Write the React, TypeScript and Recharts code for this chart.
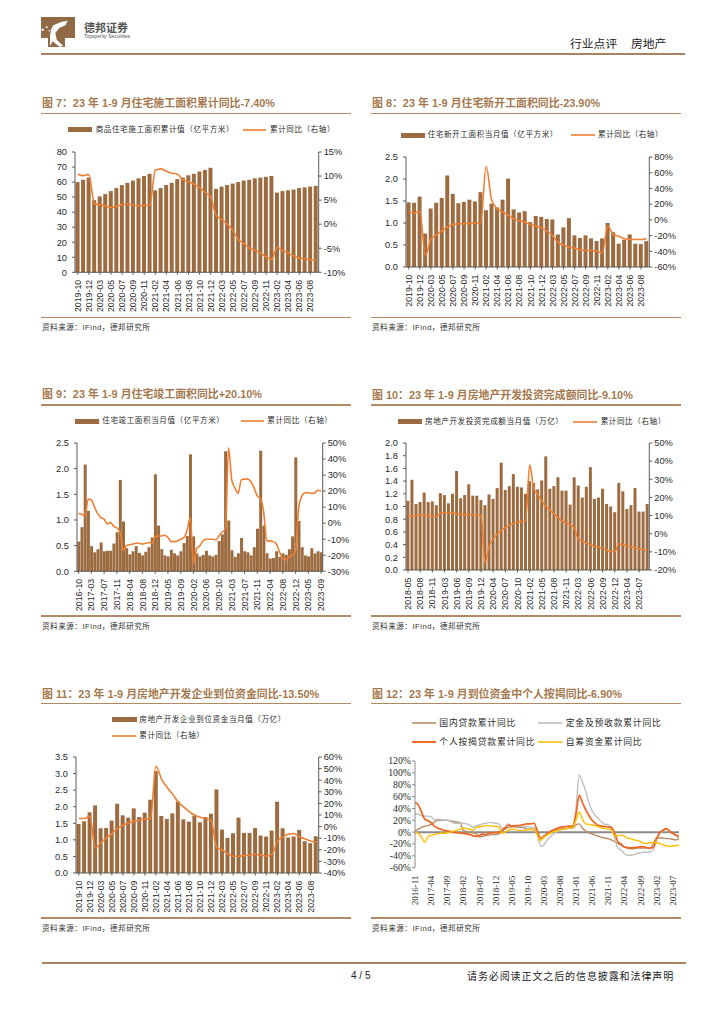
import React from "react";
import { ComposedChart, Bar, Line, XAxis, YAxis, ReferenceLine } from "recharts";

const catsA = ["2019-10","2019-11","2019-12","2020-02","2020-03","2020-04","2020-05","2020-06","2020-07","2020-08","2020-09","2020-10","2020-11","2020-12","2021-02","2021-03","2021-04","2021-05","2021-06","2021-07","2021-08","2021-09","2021-10","2021-11","2021-12","2022-02","2022-03","2022-04","2022-05","2022-06","2022-07","2022-08","2022-09","2022-10","2022-11","2022-12","2023-02","2023-03","2023-04","2023-05","2023-06","2023-07","2023-08","2023-09"];
const catsB = ["2016-10","2016-11","2016-12","2017-02","2017-03","2017-04","2017-05","2017-06","2017-07","2017-08","2017-09","2017-10","2017-11","2017-12","2018-02","2018-03","2018-04","2018-05","2018-06","2018-07","2018-08","2018-09","2018-10","2018-11","2018-12","2019-02","2019-03","2019-04","2019-05","2019-06","2019-07","2019-08","2019-09","2019-10","2019-11","2019-12","2020-02","2020-03","2020-04","2020-05","2020-06","2020-07","2020-08","2020-09","2020-10","2020-11","2020-12","2021-02","2021-03","2021-04","2021-05","2021-06","2021-07","2021-08","2021-09","2021-10","2021-11","2021-12","2022-02","2022-03","2022-04","2022-05","2022-06","2022-07","2022-08","2022-09","2022-10","2022-11","2022-12","2023-02","2023-03","2023-04","2023-05","2023-06","2023-07","2023-08","2023-09"];
const catsC = ["2018-05","2018-06","2018-07","2018-08","2018-09","2018-10","2018-11","2018-12","2019-02","2019-03","2019-04","2019-05","2019-06","2019-07","2019-08","2019-09","2019-10","2019-11","2019-12","2020-02","2020-03","2020-04","2020-05","2020-06","2020-07","2020-08","2020-09","2020-10","2020-11","2020-12","2021-02","2021-03","2021-04","2021-05","2021-06","2021-07","2021-08","2021-09","2021-10","2021-11","2021-12","2022-02","2022-03","2022-04","2022-05","2022-06","2022-07","2022-08","2022-09","2022-10","2022-11","2022-12","2023-02","2023-03","2023-04","2023-05","2023-06","2023-07","2023-08","2023-09"];
const catsD = ["2016-11","2016-12","2017-01","2017-02","2017-03","2017-04","2017-05","2017-06","2017-07","2017-08","2017-09","2017-10","2017-11","2017-12","2018-01","2018-02","2018-03","2018-04","2018-05","2018-06","2018-07","2018-08","2018-09","2018-10","2018-11","2018-12","2019-01","2019-02","2019-03","2019-04","2019-05","2019-06","2019-07","2019-08","2019-09","2019-10","2019-11","2019-12","2020-01","2020-02","2020-03","2020-04","2020-05","2020-06","2020-07","2020-08","2020-09","2020-10","2020-11","2020-12","2021-01","2021-02","2021-03","2021-04","2021-05","2021-06","2021-07","2021-08","2021-09","2021-10","2021-11","2021-12","2022-01","2022-02","2022-03","2022-04","2022-05","2022-06","2022-07","2022-08","2022-09","2022-10","2022-11","2022-12","2023-01","2023-02","2023-03","2023-04","2023-05","2023-06","2023-07","2023-08","2023-09"];

const bars7 = [60,61.5,63,48,50.5,52,54,56,58,59.5,61,62.5,64,65.5,54.5,56,58,59.5,62,63,64.5,65.5,67,68,69.5,55.5,57,58,59,60,61,61.5,62.5,63,63.5,64,53,54,54.5,55,56,56.5,57,57.5];
const line7 = [10.4,10.1,10.3,4.3,4.0,3.8,3.5,3.7,4.1,4.2,4.0,3.8,3.9,4.0,11.2,11.5,11.0,10.6,10.4,9.2,8.8,8.3,7.6,6.6,5.6,1.8,1.0,0.0,-1.3,-3.2,-4.0,-5.0,-5.4,-6.0,-6.8,-7.3,-4.8,-5.5,-6.0,-6.6,-7.0,-7.2,-7.4,-7.4];

const bars8 = [1.47,1.46,1.60,0.76,1.33,1.46,1.57,2.08,1.66,1.45,1.48,1.53,1.49,1.70,1.29,1.44,1.35,1.53,2.01,1.31,1.24,1.27,1.02,1.16,1.14,1.09,1.08,0.74,0.90,1.11,0.72,0.66,0.72,0.65,0.59,0.65,1.00,0.79,0.53,0.62,0.74,0.53,0.52,0.59];
const line8 = [10,9,10.5,-45,-25,-19,-14,-9,-6,-5,-5,-4.5,-4,-4,68,25,14,10,6,1,-1,-3,-6,-8,-10,-14,-20,-29,-32,-35,-36,-38,-39,-39,-40,-42,-8,-19,-21,-24,-25,-25,-25,-23.9];

const bars9 = [0.58,0.86,2.08,1.18,0.49,0.37,0.43,0.56,0.39,0.40,0.40,0.54,0.76,1.78,0.97,0.45,0.33,0.39,0.49,0.36,0.31,0.38,0.47,0.66,1.89,0.89,0.43,0.31,0.29,0.42,0.35,0.31,0.39,0.55,0.69,2.28,0.68,0.35,0.29,0.32,0.40,0.31,0.29,0.32,0.59,0.72,2.34,0.99,0.41,0.28,0.35,0.65,0.39,0.37,0.31,0.47,0.83,2.35,0.89,0.35,0.25,0.26,0.39,0.28,0.35,0.32,0.43,0.68,2.22,0.98,0.47,0.31,0.29,0.45,0.35,0.39,0.37];
const line9 = [6,5.5,4.5,15,14.5,10,6,3.5,2.5,-0.5,0.5,-2,-3,-5.5,-17,-14,-13.5,-13,-12.5,-12.5,-13,-12.5,-12,-12.5,-8.5,-8,-8,-7.5,-9,-11.5,-11.5,-11,-10,-9,-4.5,3.5,-25,-16,-14,-11,-10,-10,-10,-10.5,-8,-5.5,-4,47,27,22,18.5,27,27.5,27.5,26,22,17,15.5,7,-11,-11,-11.5,-13,-18,-22,-23,-21,-20,-17,10,17,19,19,18.5,19,20.5,20.1];

const bars10 = [1.09,1.42,1.04,1.07,1.22,1.07,1.08,1.02,1.21,1.18,1.05,1.20,1.56,1.13,1.18,1.35,1.17,1.17,1.10,1.02,1.19,1.12,1.29,1.69,1.26,1.32,1.51,1.31,1.30,1.20,1.40,1.37,1.27,1.41,1.79,1.28,1.32,1.46,1.25,1.25,1.03,1.46,1.33,1.14,1.31,1.62,1.12,1.14,1.28,1.04,1.00,0.91,1.37,1.24,0.96,1.02,1.29,0.92,0.92,1.04];
const line10 = [10,9.7,10,10.3,10.2,10,9.8,9.5,11.2,11.6,11.8,11.5,11,10.8,10.5,10.5,10.4,10.3,10.2,-16,-7,-3,-0.3,1.9,3.4,4.6,5.6,6.3,6.8,7,38,25,21.6,18,15,13,11,9,7,6,5,3.1,-3,-4,-5.2,-6,-7,-7.5,-8,-9,-9.8,-10,-5.5,-6,-6.5,-7,-7.7,-8.3,-8.8,-9.1];

const bars11 = [1.48,1.56,1.83,2.04,1.35,1.36,1.58,2.09,1.74,1.67,1.95,1.69,1.82,2.21,3.07,1.72,1.63,1.80,2.16,1.62,1.55,1.73,1.53,1.69,1.79,2.52,1.31,1.06,1.20,1.67,1.21,1.21,1.36,1.13,1.10,1.28,2.15,1.35,1.07,1.10,1.30,0.96,0.90,1.11];
const line11 = [7,7,9,-18.5,-14,-10,-6,-1.5,1,3,4.5,5.5,6.5,7,52,41,34,28,21.5,17,13,10,8,7,5.5,-18,-20,-23.5,-25.5,-25.5,-25,-24.5,-24,-24.5,-25.5,-24,-13,-9,-6.5,-6,-9,-10.5,-12.5,-13.5];

const domestic12 = [2,5,8,10,11,13,17,20,20,20,20,19,18,17,16,3,1,0,-1,-3,-8,-7,-6,-5,-4,-4,-3,2,5,8,9,9,8.5,8,7,5,5,4,-2,-11,-8,-4,0,3,4,5,6,6,7,7,12,14,7,2,-1,-3,-5,-7,-9,-10,-11,-13,-16,-19,-22,-25,-27,-28,-28,-27,-27,-27,-27,-27,-20,-10,-10,-10,-11,-11,-12,-13,-11];
const deposit12 = [31,30,28,27,27,26,21,22,21,20,20,18,15,15,15,15,14,12,8,11,12,14,15,16,16,15,14,6,8,14,10,11,10,10,9,9,8,7,-5,-24,-22,-14,-8,-3,1,3,5,6,7,8,40,96,85,70,50,36,28,22,17,13,13,5,-10,-27,-30,-36,-39,-39,-38,-36,-35,-34,-34,-33.5,-30,-10,-3,2,5,1,-2,-6,-10];
const mortgage12 = [50,46,34,22,19,16,10,7,5,3,2,1,0,-1,-1.5,-2,-3,-4,-6,-7,-5.5,-3,-4,-2,-1,-1,0,3,7,12,10,11,11,12,13,14,14,15,2,-11,-7,-3,1,4,6,8,9,9.5,10,10,30,62,50,38,28,20,15,11,10,9.5,9,8,-2,-16,-20,-25,-26,-26.5,-26,-25.5,-25,-25,-26,-27,-26,-12,-1,3,6,2,-2,-5,-6.9];
const selfRaised12 = [0,-2,-8,-17,-8,-5,-4,-3,-2,-2,-1,0,2,3,5,7,6,5,3,8,9,10,11,11,10,10,9,-2,0,3,5,5,3,3,3,4,4,5,-5,-14,-9,-5,-2,1,2,4,5,6,7,8,20,34,22,14,13,12,11,9,7,6,5,4,-6,-6,-5,-7,-10,-11,-13,-14,-16,-19,-19,-18,-17,-18,-19,-21,-23,-24,-23,-23,-21.7];

const ticks80 = [0,10,20,30,40,50,60,70,80];
const ticks25 = [0,0.5,1,1.5,2,2.5];
const ticks20 = [0,0.2,0.4,0.6,0.8,1,1.2,1.4,1.6,1.8,2];
const ticks35 = [0,0.5,1,1.5,2,2.5,3,3.5];
const r7 = [-10,-5,0,5,10,15];
const r8 = [-60,-40,-20,0,20,40,60,80];
const r9 = [-30,-20,-10,0,10,20,30,40,50];
const r10 = [-20,-10,0,10,20,30,40,50];
const r11 = [-40,-30,-20,-10,0,10,20,30,40,50,60];
const y12 = [-60,-40,-20,0,20,40,60,80,100,120];

const CJK = '"Noto Sans CJK SC"';
const SANS = '"Liberation Sans", Arial';
const BROWN = "#9c6b40";
const ORANGE = "#ee7f33";
const TITLE = "#a5794f";
const AX = "#595959";
const TXT = "#2b2b2b";

function Txt({ x, y, size = 8, ls = 0, color = TXT, bold = false, font = `${SANS}, ${CJK}`, children }: any) {
  return (
    <div style={{ position: "absolute", left: x, top: y, transform: "translateY(-50%)", fontFamily: font, fontSize: size, letterSpacing: ls, color, fontWeight: bold ? 700 : 400, whiteSpace: "pre", lineHeight: 1 }}>
      {children}
    </div>
  );
}
function Rule({ x1, x2, y, h = 1.2, color = "#b08a65" }: any) {
  return <div style={{ position: "absolute", left: x1, top: y - h / 2, width: x2 - x1, height: h, background: color }} />;
}
function Swatch({ x1, x2, y }: any) {
  return <div style={{ position: "absolute", left: x1, top: y - 2.5, width: x2 - x1, height: 5, background: BROWN }} />;
}

function XTick({ x, y, payload, font, size, off = 3 }: any) {
  return (
    <g transform={`translate(${x},${y + off})`}>
      <text transform="rotate(-90)" textAnchor="end" dy="0.35em" fontSize={size} fontFamily={font} fill={TXT}>{payload.value}</text>
    </g>
  );
}

function Combo({ l, t, r, b, cats, bars, line, lDom, lTicks, rDom, rTicks, interval, dec, gap = "24%" }: any) {
  const padL = 36, padR = 36, padT = 8, padB = 44;
  const data = cats.map((c: string, i: number) => ({ c, bar: bars[i], line: line[i] }));
  return (
    <div style={{ position: "absolute", left: l - padL, top: t - padT }}>
      <ComposedChart width={r - l + padL + padR} height={b - t + padT + padB} data={data} margin={{ top: padT, right: 0, bottom: 0, left: 0 }}>
        <XAxis dataKey="c" interval={interval} height={padB} stroke={AX} tickSize={2.5} tick={<XTick font={SANS} size={8.8} />} />
        <YAxis yAxisId="l" orientation="left" width={padL} domain={lDom} ticks={lTicks} stroke={AX} tickSize={3} tickMargin={5} interval={0}
          tick={{ fontSize: 9.3, fontFamily: SANS, fill: TXT }} tickFormatter={(v: number) => v.toFixed(dec)} />
        <YAxis yAxisId="r" orientation="right" width={padR} domain={rDom} ticks={rTicks} stroke={AX} tickSize={3} tickMargin={2} interval={0}
          tick={{ fontSize: 9.3, fontFamily: SANS, fill: TXT }} tickFormatter={(v: number) => `${v}%`} />
        <Bar yAxisId="l" dataKey="bar" fill={BROWN} barCategoryGap={gap} isAnimationActive={false} />
        <Line yAxisId="r" dataKey="line" type="monotone" stroke={ORANGE} strokeWidth={1.6} dot={false} isAnimationActive={false} />
      </ComposedChart>
    </div>
  );
}

function Lines12() {
  const l = 415.3, t = 761.3, r = 679.3, b = 868;
  const padL = 40, padR = 6, padT = 6, padB = 48;
  const data = catsD.map((c, i) => ({ c, a: domestic12[i], d: deposit12[i], m: mortgage12[i], s: selfRaised12[i] }));
  return (
    <div style={{ position: "absolute", left: l - padL, top: t - padT }}>
      <ComposedChart width={r - l + padL + padR} height={b - t + padT + padB} data={data} margin={{ top: padT, right: padR, bottom: 0, left: 0 }}>
        <XAxis dataKey="c" interval={4} height={padB} axisLine={false} tickLine={false} tick={<XTick font='"Liberation Serif"' size={9} off={0} />} />
        <YAxis width={padL} domain={[-60, 120]} ticks={y12} interval={0} stroke="#8c8c8c" tickSize={3} tickMargin={1}
          tick={{ fontSize: 9.8, fontFamily: '"Liberation Serif"', fill: TXT }} tickFormatter={(v: number) => `${v}%`} />
        <ReferenceLine y={0} stroke="#8a8a8a" strokeWidth={2} />
        <Line dataKey="a" type="monotone" stroke="#b48d64" strokeWidth={1.4} dot={false} isAnimationActive={false} />
        <Line dataKey="d" type="monotone" stroke="#bfbfbf" strokeWidth={1.4} dot={false} isAnimationActive={false} />
        <Line dataKey="m" type="monotone" stroke="#f0641e" strokeWidth={1.7} dot={false} isAnimationActive={false} />
        <Line dataKey="s" type="monotone" stroke="#ffc000" strokeWidth={1.4} dot={false} isAnimationActive={false} />
      </ComposedChart>
    </div>
  );
}

const LINE_NAME = "累计同比（右轴）";

function LegendLine({ x1, x2, y, color, h = 1.6 }: any) {
  return (
    <svg style={{ position: "absolute", left: x1, top: y - 3 }} width={x2 - x1} height={6}>
      <line x1={0} x2={x2 - x1} y1={3} y2={3} stroke={color} strokeWidth={h} />
    </svg>
  );
}

function Panel({ x, rx, title, ty, ry, sy, sty }: any) {
  return (
    <>
      <Txt x={x} y={ty} size={10.9} bold color={TITLE}>{title}</Txt>
      <Rule x1={x - 1} x2={rx} y={ry} />
      <Rule x1={x - 1} x2={rx} y={sy} />
      <Txt x={x} y={sty} size={7.6} ls={0.5} color="#333">资料来源：IFind，德邦研究所</Txt>
    </>
  );
}

export default function App() {
  const lg = { size: 7.6, ls: 0.55 };
  return (
    <div style={{ position: "absolute", left: 0, top: 0, width: 724, height: 1024, background: "#fff", overflow: "hidden" }}>
      {/* header */}
      <svg style={{ position: "absolute", left: 41, top: 17 }} width={36} height={32}>
        <path d="M0 0H34V21H24V30H7V21H0Z" fill="#8f6a45" />
        <path d="M12.3 8.3 L20 5 L26.7 3.7 L24.3 8.3 L18.3 11 L14.3 16 L15.7 22.7 L22.3 29 L18.3 29.7 L11.7 24.3 L9 29.3 L9 19.3 L10 12.7 Z" fill="#fff" />
        <circle cx={1.7} cy={12.7} r={1.2} fill="#fff" />
        <circle cx={5.7} cy={10.3} r={1} fill="#fff" />
        <circle cx={8.3} cy={13.7} r={0.8} fill="#fff" />
      </svg>
      <Txt x={84} y={27} size={11} bold color="#555" font={CJK}>德邦证券</Txt>
      <Txt x={84} y={36} size={5} color="#555">Topsperity Securities</Txt>
      <Txt x={570} y={43} size={11.8} color="#222" font={CJK}>行业点评</Txt>
      <Txt x={631} y={43} size={11.8} color="#222" font={CJK}>房地产</Txt>
      <Rule x1={41} x2={685} y={54} h={2.2} color="#a9825f" />

      {/* 7 */}
      <Panel x={42} rx={351} ty={103} ry={113.5} sy={317.5} sty={328} title="图 7：23 年 1-9 月住宅施工面积累计同比-7.40%" />
      <Swatch x1={67.7} x2={92.3} y={129.5} />
      <Txt x={95.7} y={129.5} {...lg}>商品住宅施工面积累计值（亿平方米）</Txt>
      <LegendLine x1={243} x2={266} y={129.5} color={ORANGE} />
      <Txt x={270} y={129.5} {...lg}>{LINE_NAME}</Txt>
      <Combo l={75} t={151.7} r={318.7} b={272} cats={catsA} bars={bars7} line={line7} lDom={[0, 80]} lTicks={ticks80} rDom={[-10, 15]} rTicks={r7} interval={1} dec={0} />

      {/* 8 */}
      <Panel x={372} rx={681} ty={103} ry={113.5} sy={317.5} sty={328} title="图 8：23 年 1-9 月住宅新开工面积同比-23.90%" />
      <Swatch x1={400.7} x2={425} y={135} />
      <Txt x={427.7} y={135} {...lg}>住宅新开工面积当月值（亿平方米）</Txt>
      <LegendLine x1={570.7} x2={595} y={135} color={ORANGE} />
      <Txt x={598} y={135} {...lg}>{LINE_NAME}</Txt>
      <Combo l={406} t={157} r={649.3} b={267} cats={catsA} bars={bars8} line={line8} lDom={[0, 2.5]} lTicks={ticks25} rDom={[-60, 80]} rTicks={r8} interval={1} dec={1} />

      {/* 9 */}
      <Panel x={42} rx={351} ty={394} ry={405} sy={616} sty={627} title="图 9：23 年 1-9 月住宅竣工面积同比+20.10%" />
      <Swatch x1={75} x2={99.3} y={421} />
      <Txt x={102.3} y={421} {...lg}>住宅竣工面积当月值（亿平方米）</Txt>
      <LegendLine x1={240.7} x2={264.3} y={421} color={ORANGE} />
      <Txt x={267.3} y={421} {...lg}>{LINE_NAME}</Txt>
      <Combo l={77} t={442.7} r={322.7} b={571} cats={catsB} bars={bars9} line={line9} lDom={[0, 2.5]} lTicks={ticks25} rDom={[-30, 50]} rTicks={r9} interval={3} dec={1} gap="26%" />

      {/* 10 */}
      <Panel x={372} rx={681} ty={395} ry={405} sy={616} sty={627} title="图 10：23 年 1-9 月房地产开发投资完成额同比-9.10%" />
      <Swatch x1={397.7} x2={422.3} y={421.7} />
      <Txt x={425} y={421.7} {...lg}>房地产开发投资完成额当月值（万亿）</Txt>
      <LegendLine x1={573.3} x2={597.3} y={421.7} color={ORANGE} />
      <Txt x={600.7} y={421.7} {...lg}>{LINE_NAME}</Txt>
      <Combo l={406} t={443.3} r={649.3} b={570.3} cats={catsC} bars={bars10} line={line10} lDom={[0, 2]} lTicks={ticks20} rDom={[-20, 50]} rTicks={r10} interval={2} dec={1} />

      {/* 11 */}
      <Panel x={42} rx={351} ty={693.5} ry={703.5} sy={918} sty={929} title="图 11：23 年 1-9 月房地产开发企业到位资金同比-13.50%" />
      <Swatch x1={112.3} x2={136.7} y={719.7} />
      <Txt x={139.3} y={719.7} {...lg}>房地产开发企业到位资金当月值（万亿）</Txt>
      <LegendLine x1={112.3} x2={136.7} y={736} color={ORANGE} />
      <Txt x={139.3} y={736} {...lg}>{LINE_NAME}</Txt>
      <Combo l={76} t={756.7} r={318.7} b={872.7} cats={catsA} bars={bars11} line={line11} lDom={[0, 3.5]} lTicks={ticks35} rDom={[-40, 60]} rTicks={r11} interval={1} dec={1} />

      {/* 12 */}
      <Panel x={372} rx={681} ty={693.5} ry={703.5} sy={918} sty={929} title="图 12：23 年 1-9 月到位资金中个人按揭同比-6.90%" />
      <LegendLine x1={411.7} x2={436} y={723.3} color="#b48d64" />
      <Txt x={439.3} y={723.3} size={8.8} ls={0.8}>国内贷款累计同比</Txt>
      <LegendLine x1={538.3} x2={562.7} y={723.3} color="#bfbfbf" />
      <Txt x={565.7} y={723.3} size={8.8} ls={0.8}>定金及预收款累计同比</Txt>
      <LegendLine x1={411.7} x2={436} y={741.7} color="#f0641e" h={1.9} />
      <Txt x={439.3} y={741.7} size={8.8} ls={0.8}>个人按揭贷款累计同比</Txt>
      <LegendLine x1={538.3} x2={562.7} y={741.7} color="#ffc000" />
      <Txt x={565.7} y={741.7} size={8.8} ls={0.8}>自筹资金累计同比</Txt>
      <Lines12 />

      {/* footer */}
      <Rule x1={42} x2={686} y={963} h={2.2} color="#a9825f" />
      <Txt x={351} y={976} size={10} color="#222">4 / 5</Txt>
      <Txt x={467} y={976} size={10} ls={0.9} color="#222" font={CJK}>请务必阅读正文之后的信息披露和法律声明</Txt>
    </div>
  );
}
